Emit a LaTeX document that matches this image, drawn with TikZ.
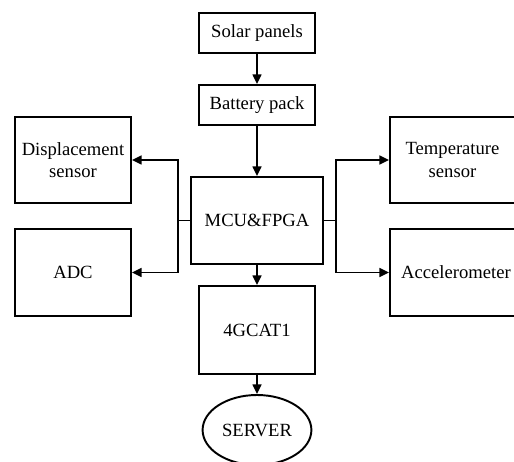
\documentclass[tikz,border=0pt]{standalone}
\usepackage{fontspec}
\setmainfont{Liberation Serif}
\usetikzlibrary{arrows.meta,shapes.geometric}

\tikzset{
  blockbox/.style={draw, line width=1.1pt, align=center, inner sep=2pt},
  flow/.style={-{Triangle[length=5.5pt,width=5pt]}, line width=1.1pt}
}

\begin{document}
\begin{tikzpicture}[x=0.02cm, y=-0.02cm, font=\fontsize{10.6}{12.6}\selectfont]
  \useasboundingbox (0,0) rectangle (514,462);

  % power chain
  \node[blockbox, minimum width=2.32cm, minimum height=0.8cm] (solar) at (257,33) {Solar panels};
  \node[blockbox, minimum width=2.32cm, minimum height=0.8cm] (battery) at (257,105) {Battery pack};
  \node[blockbox, minimum width=2.64cm, minimum height=1.74cm] (mcu) at (257,220.5) {MCU\&FPGA};

  % sensors
  \node[blockbox, minimum width=2.32cm, minimum height=1.72cm] (disp) at (73,160) {Displacement\\sensor};
  \node[blockbox, minimum width=2.32cm, minimum height=1.74cm] (adc) at (73,272.5) {ADC};
  \node[blockbox, minimum width=2.5cm, minimum height=1.72cm] (temp) at (452.5,160) {Temperature\\sensor};
  \node[blockbox, minimum width=2.5cm, minimum height=1.74cm] (accel) at (452.5,272.5) {\hspace{4pt}Accelerometer};

  % communication
  \node[blockbox, minimum width=2.32cm, minimum height=1.76cm] (lte) at (257,330) {4GCAT1};
  \node[blockbox, ellipse, minimum width=2.12cm, minimum height=1.4cm] (server) at (257,430) {SERVER};

  % split points
  \coordinate (lsplit) at (178,220.5);
  \coordinate (rsplit) at (336,220.5);

  % connectors
  \draw[flow] (solar) -- (battery);
  \draw[flow] (battery) -- (mcu);
  \draw[line width=1.1pt] (mcu.west) -- (lsplit);
  \draw[flow] (lsplit) |- (disp.east);
  \draw[flow] (lsplit) |- (adc.east);
  \draw[line width=1.1pt] (mcu.east) -- (rsplit);
  \draw[flow] (rsplit) |- (temp.west);
  \draw[flow] (rsplit) |- (accel.west);
  \draw[flow] (mcu) -- (lte);
  \draw[flow] (lte) -- (server);
\end{tikzpicture}
\end{document}
